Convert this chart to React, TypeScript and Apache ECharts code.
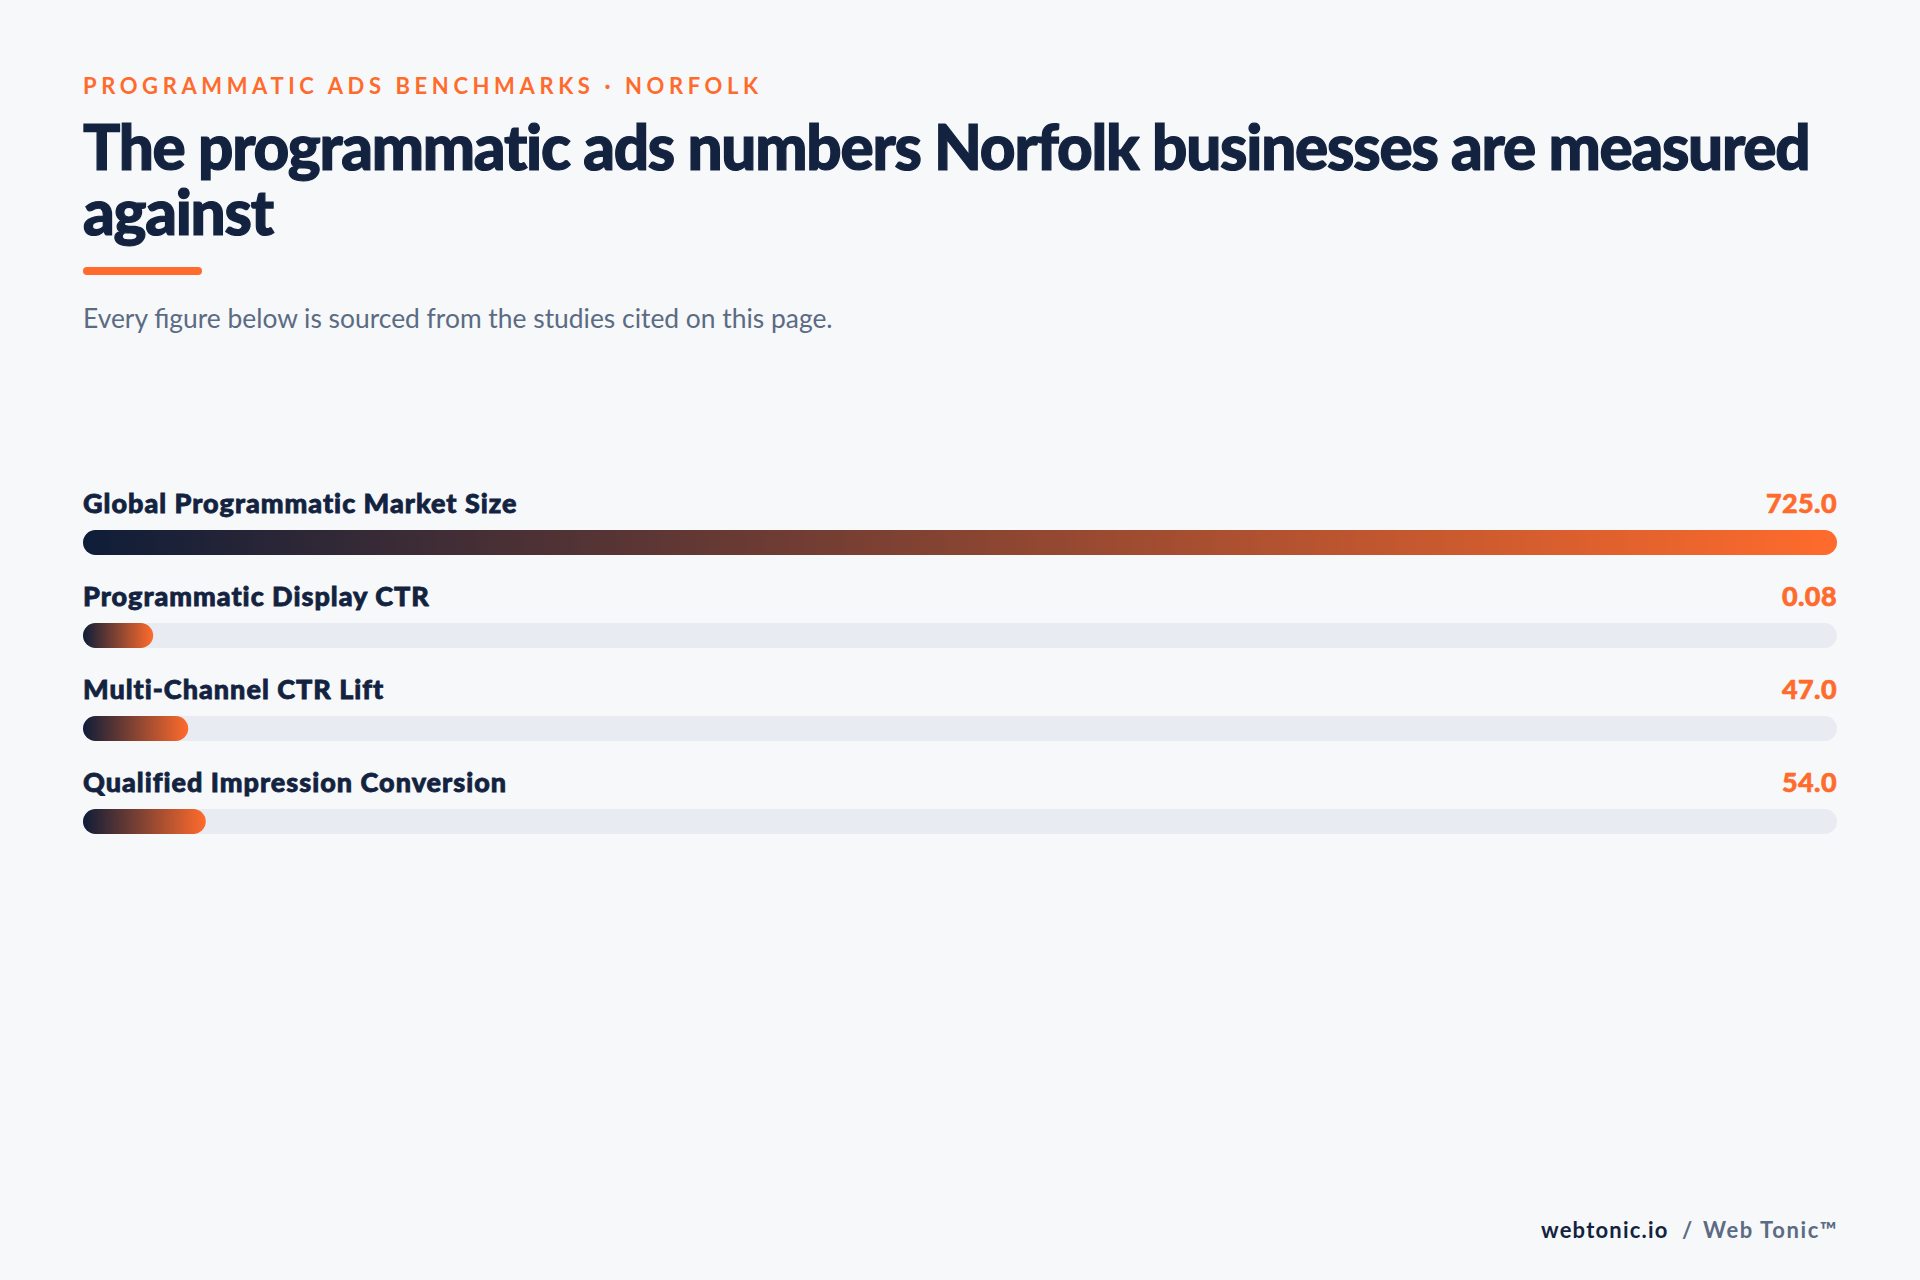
import React, { useEffect, useRef } from 'react'
import * as echarts from 'echarts'

const NAVY = '#13233f'
const ORANGE = '#ff6b2c'
const SLATE = '#5b6b84'
const TRACK = '#e8ebf2'
const BG = '#f6f8fa'

const EYEBROW = 'PROGRAMMATIC ADS BENCHMARKS · NORFOLK'
const TITLE_LINES = ['The programmatic ads numbers Norfolk businesses are measured', 'against']
const SUBTITLE = 'Every figure below is sourced from the studies cited on this page.'
const FOOTER = ['webtonic.io', '/', 'Web Tonic™']

const metricNames = [
  'Global Programmatic Market Size',
  'Programmatic Display CTR',
  'Multi-Channel CTR Lift',
  'Qualified Impression Conversion'
]
const metricValues = [725.0, 0.08, 47.0, 54.0]

function formatValue(v: number): string {
  return v < 1 ? v.toFixed(2) : v.toFixed(1)
}

// bar length in percent of the track, rounded, with a small minimum so tiny values stay visible
function barPercent(v: number, max: number): number {
  return Math.max(4, Math.round((v / max) * 100))
}

// letter spacing per text, applied on the rendered svg
const SPACING: Record<string, string> = {
  [EYEBROW]: '4.6',
  [TITLE_LINES[0]]: '-1.25',
  [TITLE_LINES[1]]: '-1.25',
  [FOOTER[0]]: '1.2',
  [FOOTER[2]]: '1.6'
}
metricNames.forEach(n => { SPACING[n] = '1' })
metricValues.forEach(v => { SPACING[formatValue(v)] = '0.4' })

function BenchmarkChart() {
  const chartRef = useRef<HTMLDivElement>(null)

  useEffect(() => {
    if (!chartRef.current) return
    const chart = echarts.init(chartRef.current, null, { renderer: 'svg' })
    const max = Math.max(...metricValues)

    const option: echarts.EChartsOption = {
      animation: false,
      backgroundColor: BG,
      textStyle: { fontFamily: 'Lato' },
      grid: { left: 83, right: 83, top: 496, height: 372 },
      xAxis: { type: 'value', min: 0, max: 100, show: false },
      yAxis: {
        type: 'category',
        data: metricNames,
        inverse: true,
        show: false
      },
      graphic: [
        {
          type: 'text',
          x: 83,
          y: 85,
          style: { text: EYEBROW, fill: ORANGE, font: 'bold 22px Lato', verticalAlign: 'middle' }
        },
        {
          type: 'text',
          x: 83,
          y: 178.5,
          style: {
            text: TITLE_LINES.join('\n'),
            fill: NAVY,
            stroke: NAVY,
            lineWidth: 1.2,
            font: '900 62px Lato',
            lineHeight: 65,
            verticalAlign: 'middle'
          }
        },
        {
          type: 'rect',
          shape: { x: 83, y: 267, width: 119, height: 8, r: 4 },
          style: { fill: ORANGE }
        },
        {
          type: 'text',
          x: 83,
          y: 318,
          style: { text: SUBTITLE, fill: SLATE, font: '26.4px Lato', verticalAlign: 'middle' }
        },
        {
          type: 'text',
          x: 1541,
          y: 1229,
          style: { text: FOOTER[0], fill: NAVY, font: 'bold 22px Lato', verticalAlign: 'middle' }
        },
        {
          type: 'text',
          x: 1682,
          y: 1229,
          style: { text: FOOTER[1], fill: SLATE, font: 'bold 22px Lato', verticalAlign: 'middle' }
        },
        {
          type: 'text',
          x: 1703,
          y: 1229,
          style: { text: FOOTER[2], fill: SLATE, font: 'bold 22px Lato', verticalAlign: 'middle' }
        }
      ],
      series: [
        {
          name: 'track',
          type: 'bar',
          silent: true,
          barWidth: 25,
          barGap: '-100%',
          data: metricNames.map(() => 100),
          itemStyle: { color: TRACK, borderRadius: 13 },
          label: {
            show: true,
            position: [0, -28],
            align: 'left',
            verticalAlign: 'middle',
            color: NAVY,
            textBorderColor: NAVY,
            textBorderWidth: 0.8,
            fontFamily: 'Lato',
            fontWeight: 900,
            fontSize: 27,
            formatter: (p: any) => metricNames[p.dataIndex]
          }
        },
        {
          name: 'value',
          type: 'bar',
          silent: true,
          barWidth: 25,
          barGap: '-100%',
          data: metricValues.map(v => barPercent(v, max)),
          itemStyle: {
            borderRadius: 13,
            color: new echarts.graphic.LinearGradient(0, 0, 1, 0, [
              { offset: 0, color: '#0f1d38' },
              { offset: 1, color: ORANGE }
            ])
          }
        },
        {
          name: 'values',
          type: 'bar',
          silent: true,
          barWidth: 25,
          barGap: '-100%',
          data: metricNames.map(() => 100),
          itemStyle: { color: 'transparent' },
          label: {
            show: true,
            position: ['100%', -28],
            align: 'right',
            verticalAlign: 'middle',
            color: ORANGE,
            textBorderColor: ORANGE,
            textBorderWidth: 0.6,
            fontFamily: 'Lato',
            fontWeight: 900,
            fontSize: 27,
            formatter: (p: any) => formatValue(metricValues[p.dataIndex])
          }
        }
      ]
    }

    chart.setOption(option)

    chartRef.current.querySelectorAll('text').forEach(t => {
      const s = SPACING[(t.textContent || '').trim()]
      if (s) t.setAttribute('letter-spacing', s)
    })

    return () => chart.dispose()
  }, [])

  return <div ref={chartRef} style={{ width: 1920, height: 1280 }} />
}

export default function App() {
  return (
    <div style={{ position: 'absolute', left: 0, top: 0, width: 1920, height: 1280, background: BG }}>
      <BenchmarkChart />
    </div>
  )
}
